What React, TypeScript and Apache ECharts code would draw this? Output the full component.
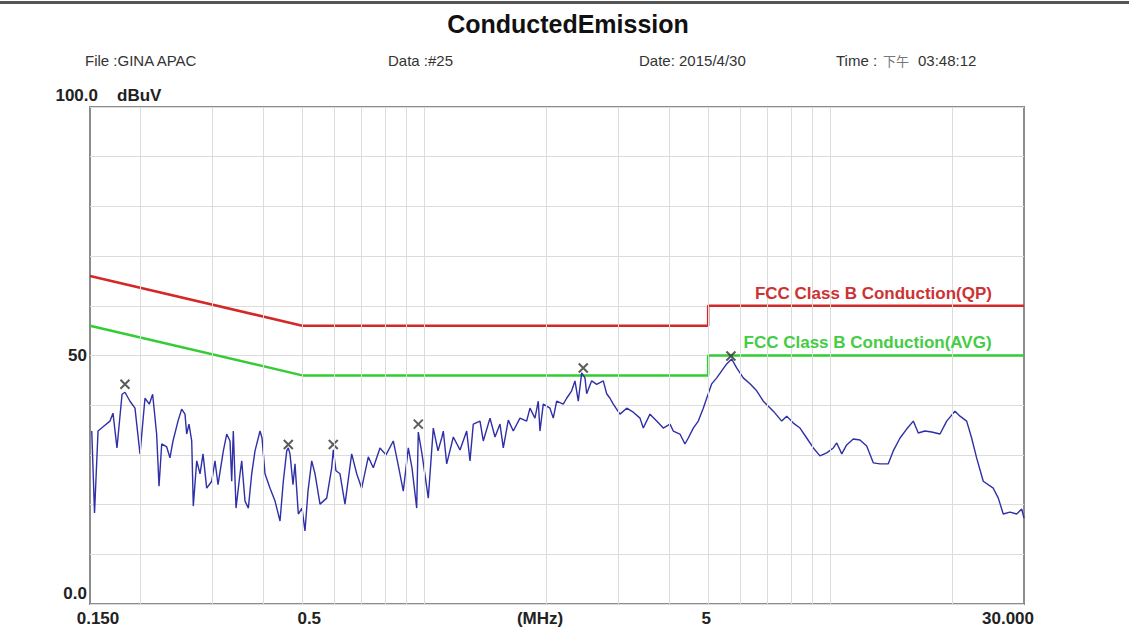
import React, { useEffect, useRef } from 'react';
import * as echarts from 'echarts';

const qpLimitMHz = [0.15, 0.5, 5, 5, 30];
const qpLimitDb = [66, 56, 56, 60, 60];
const avgLimitMHz = [0.15, 0.5, 5, 5, 30];
const avgLimitDb = [56, 46, 46, 50, 50];

const traceMHz = [
  0.1515, 0.1539, 0.157, 0.1624, 0.168, 0.1709, 0.1748, 0.1799, 0.1829, 0.1882,
  0.1936, 0.1992, 0.2049, 0.21, 0.214, 0.2189, 0.2219, 0.2253, 0.2318, 0.2361,
  0.2402, 0.2471, 0.2523, 0.2571, 0.2596, 0.263, 0.2671, 0.2695, 0.2748, 0.28,
  0.2848, 0.2908, 0.2992, 0.3048, 0.3101, 0.3196, 0.3258, 0.3319, 0.3351, 0.3382,
  0.3434, 0.3513, 0.3547, 0.3614, 0.3683, 0.3754, 0.3825, 0.3935, 0.398, 0.4048,
  0.4165, 0.4285, 0.4408, 0.4491, 0.4579, 0.462, 0.4665, 0.4745, 0.4799, 0.489,
  0.4993, 0.5079, 0.5166, 0.5276, 0.5376, 0.553, 0.5744, 0.5909, 0.5963, 0.6055,
  0.6194, 0.6372, 0.6619, 0.681, 0.7005, 0.7273, 0.7482, 0.7772, 0.8041, 0.8381,
  0.8607, 0.887, 0.9126, 0.9319, 0.9571, 0.9658, 0.9863, 1.0222, 1.0516, 1.08,
  1.1029, 1.113, 1.1346, 1.178, 1.2235, 1.2709, 1.2949, 1.3194, 1.3705, 1.3964,
  1.4505, 1.4923, 1.5352, 1.5642, 1.6092, 1.6554, 1.7194, 1.7859, 1.8196, 1.872,
  1.9074, 1.9259, 1.9623, 2.0383, 2.0769, 2.1173, 2.1981, 2.2409, 2.3054, 2.349,
  2.3934, 2.44, 2.4861, 2.5102, 2.5825, 2.6568, 2.758, 2.8118, 2.8649, 2.919,
  3.032, 3.15, 3.27, 3.397, 3.461, 3.595, 3.734, 3.876, 4.027, 4.103,
  4.261, 4.384, 4.467, 4.596, 4.728, 4.864, 4.959, 5.102, 5.249, 5.4,
  5.555, 5.714, 5.878, 6.102, 6.339, 6.585, 6.837, 7.237, 7.59, 7.808,
  8.106, 8.42, 8.745, 9.08, 9.43, 9.796, 10.17, 10.37, 10.67, 10.97,
  11.39, 11.83, 12.29, 12.76, 13.25, 13.89, 14.29, 14.85, 15.42, 16.01,
  16.47, 17.1, 17.77, 18.63, 19.35, 20.28, 20.87, 21.67, 22.29, 22.93,
  23.81, 25.2, 25.93, 26.67, 27.7, 28.78, 29.61, 30
];
const traceDb = [
  34.8, 18.3, 34.8, 35.8, 36.8, 38.4, 31.4, 42.2, 42.6, 40.8,
  39.4, 30.2, 41.4, 40.2, 42.2, 34.2, 23.7, 32.2, 31.6, 29.4,
  32.8, 36.8, 39.2, 38.2, 34.2, 36.2, 32.8, 19.7, 28.8, 26.2,
  30.2, 23.3, 24.7, 28.8, 24.0, 30.8, 34.2, 32.8, 24.7, 34.8,
  19.3, 26.2, 28.8, 20.7, 19.3, 26.2, 30.8, 34.8, 33.4, 26.2,
  23.3, 20.7, 16.7, 24.7, 30.8, 31.4, 30.2, 24.0, 28.2, 18.1,
  19.3, 14.7, 22.7, 28.8, 26.2, 20.1, 21.3, 27.4, 31.0, 26.8,
  26.2, 20.1, 30.2, 26.2, 23.3, 29.6, 27.4, 31.4, 30.0, 32.8,
  28.2, 22.7, 31.4, 27.4, 19.3, 34.6, 30.2, 21.3, 35.4, 30.8,
  33.4, 34.8, 28.2, 33.6, 31.0, 34.8, 28.8, 36.2, 36.8, 32.8,
  37.4, 33.6, 36.2, 31.4, 37.0, 34.8, 37.4, 36.8, 39.4, 37.4,
  40.8, 34.8, 40.2, 39.4, 37.4, 40.8, 40.2, 41.4, 42.9, 44.9,
  40.8, 46.5, 45.5, 42.3, 44.9, 44.2, 44.9, 42.3, 41.4, 40.2,
  38.2, 39.4, 38.6, 37.4, 35.4, 38.2, 36.8, 35.4, 36.2, 34.8,
  34.2, 32.2, 33.4, 35.4, 36.8, 39.4, 41.4, 44.3, 45.5, 46.9,
  48.3, 49.3, 47.5, 45.5, 44.3, 42.9, 40.8, 38.8, 36.8, 37.8,
  36.4, 35.4, 33.4, 31.4, 29.8, 30.4, 31.4, 32.4, 30.2, 32.0,
  33.2, 33.0, 31.8, 28.4, 28.2, 28.2, 30.8, 33.4, 35.2, 36.8,
  34.4, 34.8, 34.6, 34.2, 36.8, 38.8, 37.8, 36.8, 33.4, 29.4,
  24.7, 23.3, 21.3, 18.1, 18.5, 18.1, 19.1, 17.3
];

const peakMHz = [0.1829, 0.462, 0.5963, 0.9658, 2.462, 5.69];
const peakDb = [44.2, 32.1, 32.1, 36.2, 47.5, 49.9];

const gridMHz = [0.2, 0.3, 0.4, 0.5, 0.6, 0.7, 0.8, 0.9, 1, 2, 3, 4, 5, 6, 7, 8, 9, 10, 20];
const xTickMHz = [0.15, 0.5, 5, 30];
const xTickLabels = ['{a|0.150}', '{b|0.5}', '{c|5}', '{d|30.000}'];

const qpLabel = 'FCC Class B Conduction(QP)';
const avgLabel = 'FCC Class B Conduction(AVG)';
const qpLabelAt = [12.77, 60];
const avgLabelAt = [12.35, 50];

const FONT = 'Liberation Sans, Arial, sans-serif';

function zip(xs: number[], ys: number[]) {
  return xs.map((x, i) => [x, ys[i]]);
}

export default function App() {
  const ref = useRef<HTMLDivElement>(null);
  useEffect(() => {
    if (!ref.current) return;
    const chart = echarts.init(ref.current, undefined, { renderer: 'svg' });
    const labelBase = { fontFamily: FONT, fontSize: 17, fontWeight: 'bold' as const, color: '#222' };
    chart.setOption({
      animation: false,
      backgroundColor: '#fff',
      textStyle: { fontFamily: FONT },
      grid: {
        left: 90, right: 105, top: 107, bottom: 32,
        outerBoundsMode: 'none', containLabel: false,
        show: true, borderColor: '#8c8c8c', borderWidth: 2, backgroundColor: '#fff'
      },
      xAxis: {
        type: 'log', logBase: 10, min: 0.15, max: 30,
        axisLine: { show: false }, axisTick: { show: false }, splitLine: { show: false },
        axisLabel: {
          customValues: xTickMHz,
          margin: 6,
          ...labelBase,
          formatter: (v: number) => {
            const i = xTickMHz.findIndex(t => Math.abs(v - t) / t < 1e-4);
            return i >= 0 ? xTickLabels[i] : '';
          },
          rich: {
            a: { ...labelBase, padding: [0, 0, 0, 16] },
            b: { ...labelBase, padding: [0, 0, 0, 14] },
            c: { ...labelBase, padding: [0, 4, 0, 0] },
            d: { ...labelBase, padding: [0, 32, 0, 0] }
          }
        },
        name: '(MHz)', nameLocation: 'middle', nameGap: 6, nameMoveOverlap: false,
        nameTextStyle: { ...labelBase, padding: [0, 34, 0, 0] }
      },
      yAxis: {
        type: 'value', min: 0, max: 100, interval: 10,
        axisLine: { show: false }, axisTick: { show: false },
        splitLine: { lineStyle: { color: '#dcdcdc', width: 1 } },
        axisLabel: {
          margin: 3,
          ...labelBase,
          formatter: (v: number) => (v === 0 ? '{z|0.0}' : v === 50 ? '50' : ''),
          rich: { z: { ...labelBase, padding: [0, 0, 22, 0] } }
        }
      },
      graphic: [
        { type: 'rect', left: 0, top: 1, shape: { width: 1129, height: 3 }, style: { fill: '#555' } },
        { type: 'text', x: 568, y: 24, style: { text: 'ConductedEmission', font: 'bold 25px ' + FONT, fill: '#111', textAlign: 'center', textVerticalAlign: 'middle' } },
        { type: 'text', x: 85, y: 60, style: { text: 'File :GINA APAC', font: '15px ' + FONT, fill: '#333', textVerticalAlign: 'middle' } },
        { type: 'text', x: 388, y: 60, style: { text: 'Data :#25', font: '15px ' + FONT, fill: '#333', textVerticalAlign: 'middle' } },
        { type: 'text', x: 639, y: 60, style: { text: 'Date: 2015/4/30', font: '15px ' + FONT, fill: '#333', textVerticalAlign: 'middle' } },
        { type: 'text', x: 836, y: 60, style: { text: 'Time :', font: '15px ' + FONT, fill: '#333', textVerticalAlign: 'middle' } },
        { type: 'text', x: 883, y: 60, style: { text: '下午', font: '13px Noto Sans CJK SC', fill: '#777', textVerticalAlign: 'middle' } },
        { type: 'text', x: 918, y: 60, style: { text: '03:48:12', font: '15px ' + FONT, fill: '#333', textVerticalAlign: 'middle' } },
        { type: 'text', x: 98, y: 95, style: { text: '100.0', font: 'bold 17px ' + FONT, fill: '#222', textAlign: 'right', textVerticalAlign: 'middle' } },
        { type: 'text', x: 117, y: 95, style: { text: 'dBuV', font: 'bold 17px ' + FONT, fill: '#222', textVerticalAlign: 'middle' } }
      ],
      series: [
        {
          type: 'line', data: [], z: 1, silent: true,
          markLine: {
            silent: true, symbol: ['none', 'none'], label: { show: false },
            lineStyle: { color: '#dcdcdc', width: 1, type: 'solid' },
            emphasis: { disabled: true },
            data: gridMHz.map(f => ({ xAxis: f }))
          }
        },
        {
          name: 'QP', type: 'line', data: zip(qpLimitMHz, qpLimitDb), showSymbol: false, z: 2,
          lineStyle: { color: '#d42828', width: 2.5 },
          markPoint: {
            symbol: 'circle', symbolSize: 1, itemStyle: { color: 'rgba(0,0,0,0)' },
            label: { show: true, position: 'top', distance: 3, formatter: '{b}', fontFamily: FONT, fontSize: 17, fontWeight: 'bold', color: '#cc3333' },
            data: [{ name: qpLabel, coord: qpLabelAt }]
          }
        },
        {
          name: 'AVG', type: 'line', data: zip(avgLimitMHz, avgLimitDb), showSymbol: false, z: 2,
          lineStyle: { color: '#33cc33', width: 2.5 },
          markPoint: {
            symbol: 'circle', symbolSize: 1, itemStyle: { color: 'rgba(0,0,0,0)' },
            label: { show: true, position: 'top', distance: 4, formatter: '{b}', fontFamily: FONT, fontSize: 17, fontWeight: 'bold', color: '#44cc44' },
            data: [{ name: avgLabel, coord: avgLabelAt }]
          }
        },
        {
          name: 'Trace', type: 'line', data: zip(traceMHz, traceDb), showSymbol: false, z: 3,
          lineStyle: { color: '#2f2fa8', width: 1.4 }
        },
        {
          name: 'Peaks', type: 'scatter', data: zip(peakMHz, peakDb), z: 4,
          symbol: 'path://M0 0L10 10M10 0L0 10', symbolSize: 9,
          itemStyle: { color: 'rgba(0,0,0,0)', borderColor: '#333', borderWidth: 2 }
        }
      ]
    });
    return () => chart.dispose();
  }, []);
  return <div ref={ref} style={{ position: 'fixed', left: 0, top: 0, width: 1129, height: 636, background: '#fff' }} />;
}
